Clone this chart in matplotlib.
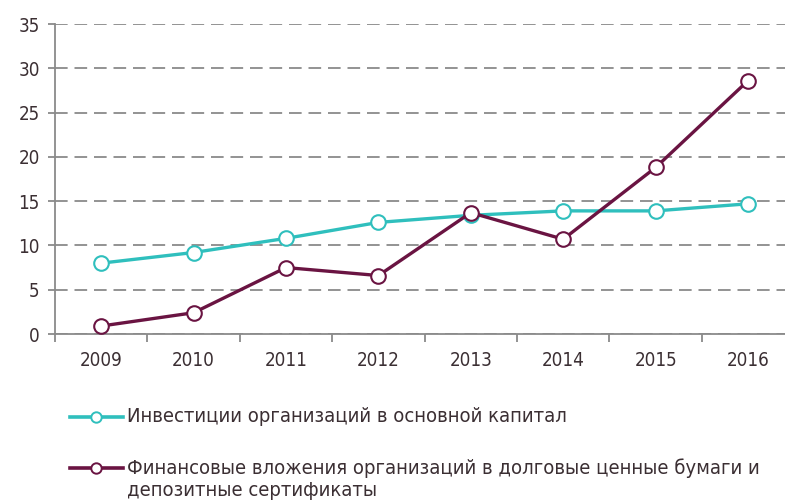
import matplotlib
matplotlib.use("Agg")
import matplotlib.pyplot as plt
from matplotlib.lines import Line2D
import numpy as np

years = ["2009", "2010", "2011", "2012", "2013", "2014", "2015", "2016"]
invest = [8.0, 9.2, 10.8, 12.6, 13.4, 13.9, 13.9, 14.7]
finance = [0.9, 2.4, 7.5, 6.6, 13.7, 10.7, 18.8, 28.6]
labels = ["Инвестиции организаций в основной капитал",
          "Финансовые вложения организаций в долговые ценные бумаги и\nдепозитные сертификаты"]
yticks = [0, 5, 10, 15, 20, 25, 30, 35]

TEAL = "#2fbfbd"
MAROON = "#6a1442"
GRID = "#8a8a8a"
TXT = "#3b2f33"

plt.rcParams['font.family'] = ['DejaVu Sans']
plt.rcParams['font.stretch'] = 'condensed'

W, H = 785, 503
fig = plt.figure(figsize=(W/100, H/100), dpi=100)
ax = fig.add_axes([55/W, (H-334)/H, (W-55)/W, 310/H])

x = np.arange(len(years))
ax.set_ylim(0, 35)
ax.set_xlim(-0.5, 7.4)
ax.set_yticks(yticks)
ax.set_yticklabels([str(t) for t in yticks])
ax.yaxis.grid(True, color=GRID, linestyle=(0, (7, 3.8)), linewidth=1.3)
ax.set_axisbelow(True)

for s in ["top", "right"]:
    ax.spines[s].set_visible(False)
for s in ["left", "bottom"]:
    ax.spines[s].set_color(GRID)
    ax.spines[s].set_linewidth(1.3)

ax.set_xticks(np.arange(-0.5, 7.5, 1.0), minor=False)
ax.set_xticklabels([])
ax.set_xticks(x, minor=True)
ax.set_xticklabels(years, minor=True)
ax.tick_params(axis='x', which='major', length=6, color=GRID, width=1.3, direction='out')
ax.tick_params(axis='x', which='minor', length=0, pad=12, labelsize=13.5, labelcolor=TXT)
ax.tick_params(axis='y', length=5, color=GRID, width=1.3, pad=6, labelsize=13.5, labelcolor=TXT)

ms = 10.5
ax.plot(x, invest, color=TEAL, lw=2.4, marker='o', ms=ms, mfc='white', mec=TEAL, mew=1.5,
        zorder=3, clip_on=False)
ax.plot(x, finance, color=MAROON, lw=2.4, marker='o', ms=ms, mfc='white', mec=MAROON, mew=1.5,
        zorder=4, clip_on=False)

# legend drawn manually in figure coordinates
entries = [(TEAL, labels[0], 417), (MAROON, labels[1], 468)]
for col, lab, ypix in entries:
    yf = (H - ypix) / H
    fig.add_artist(Line2D([70/W, 123/W], [yf, yf], color=col, lw=2.6, transform=fig.transFigure))
    fig.add_artist(Line2D([96/W], [yf], color=col, marker='o', ms=7.5, mfc='white', mec=col,
                          mew=1.4, transform=fig.transFigure))
    fig.text(127/W, (H - ypix + 10) / H, lab, fontsize=14.5, color=TXT, va='top',
             ha='left', linespacing=1.2, transform=fig.transFigure)

fig.savefig("out.png", dpi=100)
